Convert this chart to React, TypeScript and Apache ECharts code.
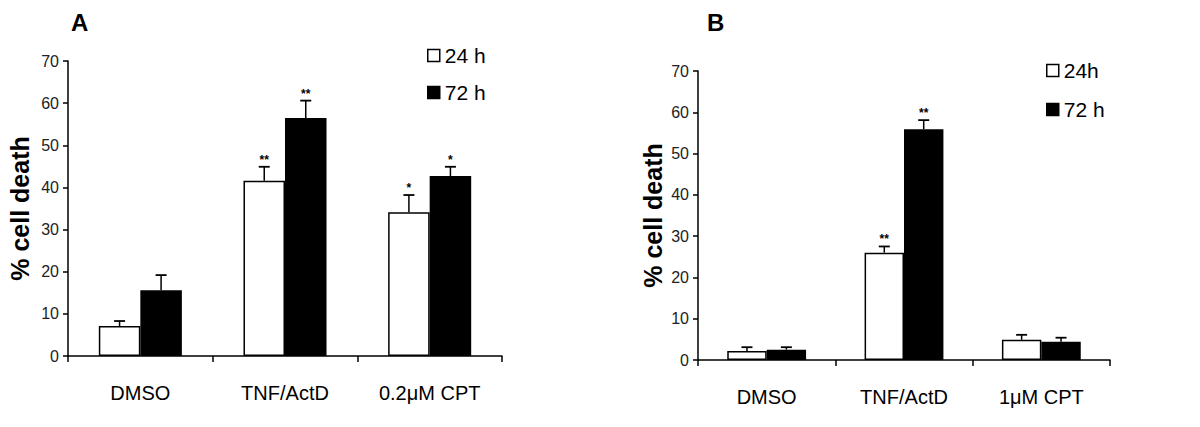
import React, { useEffect, useRef } from "react";
import * as echarts from "echarts";

const catsA = ["DMSO", "TNF/ActD", "0.2μM CPT"];
const a24 = [7.1, 41.6, 34.1];
const a24Sd = [1.2, 3.3, 4.1];
const a72 = [15.6, 56.5, 42.7];
const a72Sd = [3.6, 4.1, 2.2];
const a24Stars = ["", "**", "*"];
const a72Stars = ["", "**", "*"];

const catsB = ["DMSO", "TNF/ActD", "1μM CPT"];
const b24 = [2.2, 26.0, 4.9];
const b24Sd = [0.9, 1.5, 1.2];
const b72 = [2.5, 55.9, 4.4];
const b72Sd = [0.6, 2.2, 1.0];
const b24Stars = ["", "**", ""];
const b72Stars = ["", "**", ""];

const yTicks = [0, 10, 20, 30, 40, 50, 60, 70];

const FONT = "'Liberation Sans', Arial, sans-serif";
const BAR_FRAC = 0.287;

function errSeries(
  name: string,
  vals: number[],
  sds: number[],
  stars: string[],
  side: number,
  axisIdx: number
) {
  return {
    type: "custom",
    name: name + "-err",
    xAxisIndex: axisIdx,
    yAxisIndex: axisIdx,
    z: 5,
    silent: true,
    data: vals.map((v, i) => [i, v, v + sds[i], stars[i]]),
    renderItem: (params: any, api: any) => {
      const idx = api.value(0);
      const band = api.size([1, 0])[0];
      const off = (band * BAR_FRAC) / 2;
      const top = api.coord([idx, api.value(1)]);
      const errTop = api.coord([idx, api.value(2)]);
      const x = top[0] + side * off;
      const star = stars[idx];
      const children: any[] = [
        {
          type: "line",
          shape: { x1: x, y1: top[1], x2: x, y2: errTop[1] },
          style: { stroke: "#000", lineWidth: 1.5 },
        },
        {
          type: "line",
          shape: { x1: x - 5.5, y1: errTop[1], x2: x + 5.5, y2: errTop[1] },
          style: { stroke: "#000", lineWidth: 1.8 },
        },
      ];
      if (star) {
        children.push({
          type: "text",
          x: x,
          y: errTop[1] - 1,
          style: {
            text: star,
            fill: "#000",
            font: "bold 12px " + FONT,
            align: "center",
            verticalAlign: "bottom",
          },
        });
      }
      return { type: "group", children };
    },
  };
}

function barSeries(name: string, vals: number[], dark: boolean, axisIdx: number) {
  return {
    type: "bar",
    name,
    xAxisIndex: axisIdx,
    yAxisIndex: axisIdx,
    data: vals,
    barWidth: BAR_FRAC * 100 + "%",
    barGap: "0%",
    itemStyle: {
      color: dark ? "#000" : "#fff",
      borderColor: "#000",
      borderWidth: 1.5,
    },
  };
}

function xAxisCfg(cats: string[], grid: number, margin: number) {
  return {
    type: "category",
    gridIndex: grid,
    data: cats,
    axisLine: { lineStyle: { color: "#000", width: 1.5 } },
    axisTick: { show: true, length: 6, lineStyle: { color: "#000", width: 1.5 } },
    axisLabel: {
      color: "#000",
      fontSize: 20,
      fontFamily: FONT,
      margin,
      interval: 0,
    },
  };
}

function yAxisCfg(grid: number, nameGap: number) {
  return {
    type: "value",
    gridIndex: grid,
    min: yTicks[0],
    max: yTicks[yTicks.length - 1],
    interval: 10,
    name: "% cell death",
    nameLocation: "middle",
    nameGap,
    nameTextStyle: {
      color: "#000",
      fontSize: 25,
      fontWeight: "bold",
      fontFamily: FONT,
    },
    axisLine: { show: true, lineStyle: { color: "#000", width: 1.5 } },
    axisTick: { show: true, length: 5, lineStyle: { color: "#000", width: 1.5 } },
    splitLine: { show: false },
    axisLabel: {
      color: "#222",
      fontSize: 16,
      fontFamily: FONT,
      margin: 9,
    },
  };
}

export default function App() {
  const ref = useRef<HTMLDivElement>(null);
  useEffect(() => {
    if (!ref.current) return;
    const chart = echarts.init(ref.current, undefined, { renderer: "svg" });
    const option: any = {
      animation: false,
      backgroundColor: "#fff",
      textStyle: { fontFamily: FONT },
      title: [
        {
          text: "A",
          left: 71,
          top: 10,
          padding: 0,
          textStyle: { fontSize: 24, fontWeight: "bold", color: "#000", fontFamily: FONT },
        },
        {
          text: "B",
          left: 707,
          top: 10,
          padding: 0,
          textStyle: { fontSize: 24, fontWeight: "bold", color: "#000", fontFamily: FONT },
        },
      ],
      legend: [
        {
          left: 427,
          top: 45,
          padding: 0,
          orient: "vertical",
          icon: "rect",
          itemWidth: 12,
          itemHeight: 12,
          itemGap: 16,
          selectedMode: false,
          textStyle: { fontSize: 21, color: "#000", fontFamily: FONT, lineHeight: 20 },
          data: [
            { name: "24 h", itemStyle: { color: "#fff", borderColor: "#000", borderWidth: 1.5 } },
            { name: "72 h", itemStyle: { color: "#000", borderColor: "#000", borderWidth: 1.5 } },
          ],
        },
        {
          left: 1046,
          top: 60,
          padding: 0,
          orient: "vertical",
          icon: "rect",
          itemWidth: 12,
          itemHeight: 12,
          itemGap: 18,
          selectedMode: false,
          textStyle: { fontSize: 21, color: "#000", fontFamily: FONT, lineHeight: 20 },
          data: [
            { name: "24h", itemStyle: { color: "#fff", borderColor: "#000", borderWidth: 1.5 } },
            { name: "72 h", itemStyle: { color: "#000", borderColor: "#000", borderWidth: 1.5 } },
          ],
        },
      ],
      grid: [
        { left: 68, top: 61, width: 434, height: 295 },
        { left: 698, top: 71, width: 412, height: 289 },
      ],
      xAxis: [xAxisCfg(catsA, 0, 27), xAxisCfg(catsB, 1, 27)],
      yAxis: [yAxisCfg(0, 36), yAxisCfg(1, 33)],
      series: [
        barSeries("24 h", a24, false, 0),
        barSeries("72 h", a72, true, 0),
        errSeries("a24", a24, a24Sd, a24Stars, -1, 0),
        errSeries("a72", a72, a72Sd, a72Stars, 1, 0),
        barSeries("24h", b24, false, 1),
        barSeries("72 h", b72, true, 1),
        errSeries("b24", b24, b24Sd, b24Stars, -1, 1),
        errSeries("b72", b72, b72Sd, b72Stars, 1, 1),
      ],
    };
    chart.setOption(option);
    return () => chart.dispose();
  }, []);
  return (
    <div
      ref={ref}
      style={{ position: "fixed", left: 0, top: 0, width: 1200, height: 427, background: "#fff" }}
    />
  );
}
